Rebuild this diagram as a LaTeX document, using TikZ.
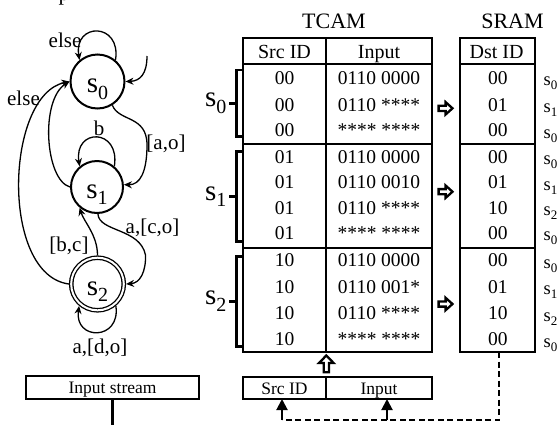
\documentclass[tikz,border=0pt]{standalone}
\usepackage{fontspec}
\setmainfont{Liberation Serif}
\usetikzlibrary{arrows.meta}
\newcommand{\fs}[1]{\fontsize{#1}{#1}\selectfont}
\newcommand{\stb}[1]{{\fs{29}s}\raisebox{-6.6pt}{\fs{20}#1}}
\newcommand{\sts}[1]{{\fs{18.5}s}\raisebox{-4pt}{\fs{13}#1}}
\tikzset{
  tline/.style={line width=2.9pt},
  tbl/.style={draw, rectangle, line width=2.9pt, inner sep=0pt, outer sep=0pt},
  brk/.style={line width=2.6pt, line join=miter},
  cell/.style={anchor=base, inner sep=0pt, font=\fs{19.5}},
  hdr/.style={anchor=base, inner sep=0pt, font=\fs{20}},
  small/.style={anchor=base, inner sep=0pt, font=\fs{17.5}},
  ttl/.style={anchor=base, inner sep=0pt, font=\fs{22}},
  slab/.style={anchor=base west, inner sep=0pt},
  blab/.style={anchor=base east, inner sep=0pt},
  lbl/.style={anchor=base, inner sep=0pt, font=\fs{21}},
  state/.style={circle, draw, line width=2pt, inner sep=0pt},
  stateacc/.style={circle, draw, line width=1.3pt, double, double distance=2pt, minimum size=52.6pt, inner sep=0pt, outer sep=2.3pt},
  fsmarrow/.style={line width=1.3pt, -{Stealth[length=8pt,width=7pt]}},
  hollow/.style={draw, fill=white, line width=2.3pt, line join=miter},
  dsh/.style={line width=2pt, dash pattern=on 6pt off 3.5pt},
  upar/.style={line width=2pt, -{Triangle[length=11pt,width=11pt]}}
}
\begin{document}
\begin{tikzpicture}[x=1pt,y=-1pt]
\useasboundingbox (0,0) rectangle (560,424);
\node[anchor=base west, inner sep=0pt, font=\fs{22}] (ptop) at (58.5,0) {p};

% ---------- FSM ----------
\node[state, minimum size=54pt] (s0) at (97.5,81.5) {};
\node[state, minimum size=52pt] (s1) at (97,187) {};
\node[stateacc] (s2) at (97.5,284) {};
\node[anchor=base, inner sep=0pt] (s0t) at ([yshift=-11pt]s0.center) {\stb{0}};
\node[anchor=base, inner sep=0pt] (s1t) at ([yshift=-11pt]s1.center) {\stb{1}};
\node[anchor=base, inner sep=0pt] (s2t) at ([yshift=-11pt]s2.center) {\stb{2}};

\draw[fsmarrow] (s0.50) .. controls +(6,-38) and +(-6,-38) .. (s0.130);
\node[lbl] (le0) at (65,47) {else};
\coordinate (init) at (147,56);
\draw[fsmarrow] (init) .. controls (147,74) and (140,81) .. (s0.east);
\coordinate (ao) at (147,145);
\draw[fsmarrow] (s0.-58) .. controls (119,122) and (147,115) .. (ao) .. controls (147,172) and (140,185) .. (s1.5);
\node[lbl] (lao) at (166,149.3) {[a,o]};
\draw[fsmarrow] (s1.50) .. controls +(6,-38.5) and +(-6,-38.5) .. (s1.130);
\node[lbl] (lb) at (99,135) {b};
\draw[fsmarrow] (s1.180) .. controls (45,180) and (40,100) .. (s0.180);
\draw[fsmarrow] (s2.180) .. controls (0,275) and (5,95) .. (s0.180);
\node[lbl] (le2) at (23.5,105) {else};
\coordinate (co) at (145.5,255);
\draw[fsmarrow] (s1.-88) .. controls (99,232) and (140,228) .. (co) .. controls (146,272) and (140,283) .. (s2.east);
\node[lbl] (lco) at (152.5,233.3) {a,[c,o]};
\draw[fsmarrow] (s2.90) .. controls (97.5,235) and (84,222) .. (s1.-130);
\node[lbl] (lbc) at (69,251.3) {[b,c]};
\draw[fsmarrow] (s2.-50) .. controls +(5,35) and +(-5,35) .. (s2.-130);
\node[lbl] (ldo) at (100,353.3) {a,[d,o]};

\node[tbl, minimum width=173pt, minimum height=23pt] (instream) at (112.5,387.5) {};
\node[small] (instreamt) at (112.5,393.5) {Input stream};
\coordinate (streamend) at (112.5,426);
\draw[tline] (instream.south) -- (streamend);

% ---------- TCAM ----------
\node[ttl] (tcamt) at (334,28) {TCAM};
\node[ttl] (sramt) at (512.5,28) {SRAM};
\node[tbl, minimum width=189pt, minimum height=314pt] (tcam) at (337.5,195) {};
\node[tbl, minimum width=75pt, minimum height=314pt] (sram) at (497.5,195) {};
\draw[tline] (243,64) -- (432,64);
\draw[tline] (243,144) -- (432,144);
\draw[tline] (243,248) -- (432,248);
\draw[tline] (326,38) -- (326,352);
\draw[tline] (460,64) -- (535,64);
\draw[tline] (460,144) -- (535,144);
\draw[tline] (460,248) -- (535,248);
\node[hdr] (hsrc) at (284.5,58.8) {Src ID};
\node[hdr] (hin) at (379,58.8) {Input};
\node[hdr] (hdst) at (496.5,58.8) {Dst ID};

\foreach \yb/\sa/\inp/\da/\ds [count=\i] in {
  84.2/00/0110 0000/00/0, 111/00/0110 ****/01/1, 136.7/00/**** ****/00/0,
  163.3/01/0110 0000/00/0, 188.8/01/0110 0010/01/1, 214/01/0110 ****/10/2, 239.3/01/**** ****/00/0,
  266.7/10/0110 0000/00/0, 293/10/0110 001*/01/1, 319.5/10/0110 ****/10/2, 345.7/10/**** ****/00/0}
{
  \node[cell] (src\i) at (284.5,\yb) {\sa};
  \node[cell] (inp\i) at (379,\yb) {\inp};
  \node[cell] (dst\i) at (497.8,\yb) {\da};
  \node[slab] (sl\i) at (543.5,\yb+1.5) {\sts{\ds}};
}

% brackets
\draw[brk] (243,70) -- (236.5,70) -- (236.5,136.5) -- (243,136.5);
\draw[brk] (236.5,103.2) -- (228.5,103.2);
\node[blab] (g0) at (226.5,106.7) {\stb{0}};
\draw[brk] (243,151.5) -- (236.5,151.5) -- (236.5,241.5) -- (243,241.5);
\draw[brk] (236.5,196.5) -- (228.5,196.5);
\node[blab] (g1) at (226.5,200) {\stb{1}};
\draw[brk] (243,256.5) -- (236.5,256.5) -- (236.5,346.5) -- (243,346.5);
\draw[brk] (236.5,301.5) -- (228.5,301.5);
\node[blab] (g2) at (226.5,304.5) {\stb{2}};

% hollow right arrows
\foreach \ya in {108.3,191.7,304} {
  \draw[hollow] (438.6,\ya-2.6) -- (445.6,\ya-2.6) -- (445.6,\ya-6.2) -- (452.5,\ya)
     -- (445.6,\ya+6.2) -- (445.6,\ya+2.6) -- (438.6,\ya+2.6) -- cycle;
}

% hollow up arrow
\draw[hollow] (326.3,355.5) -- (333.6,363) -- (328.9,363) -- (328.9,372.2)
   -- (323.7,372.2) -- (323.7,363) -- (319,363) -- cycle;

% bottom key box
\node[tbl, minimum width=83pt, minimum height=22pt] (srcbox) at (284.5,388) {};
\node[tbl, minimum width=106pt, minimum height=22pt] (inbox) at (379,388) {};
\node[small] (srcboxt) at (284.5,394) {Src ID};
\node[small] (inboxt) at (379,394) {Input};

% feedback
\coordinate (dsl) at (282,420);
\coordinate (dsm) at (387,420);
\draw[dsh] ([xshift=1.5pt]sram.south) |- (dsl);
\draw[upar] (dsl) -- (dsl |- srcbox.south);
\draw[upar] (dsm) -- (dsm |- inbox.south);
\end{tikzpicture}
\end{document}
